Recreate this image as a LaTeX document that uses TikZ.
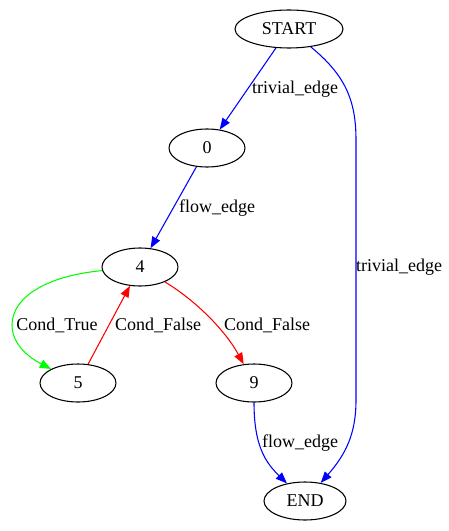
\documentclass[tikz,border=0pt]{standalone}
\usepackage{fontspec}
\setmainfont{Liberation Serif}
\usetikzlibrary{positioning, shapes, arrows.meta, calc}

\tikzset{
  state/.style={ellipse, draw, line width=0.8pt, inner sep=0pt, minimum height=28.5pt, minimum width=57pt},
  edgelabel/.style={inner sep=0pt},
  flowedge/.style={-{Triangle[length=8.5pt,width=6.5pt]}, line width=0.8pt},
}

\begin{document}
\begin{tikzpicture}[x=0.75pt, y=-0.75pt, font=\fontsize{13.5}{16}\selectfont]
                  \useasboundingbox (0,0) rectangle (449,531);
                  % Nodes
                  \node[state, minimum width=81pt] (start) at (289,29) {START};
                  \foreach \n/\x/\y in {0/207/148, 4/140/267, 5/78/383, 9/254/383}
                  \node[state] (node\n) at (\x,\y) {\n};
                  \node[state, minimum width=61.5pt] (end) at (305,501) {END};

                  % Labels
                  \node[edgelabel] (ltriv1) at (295,89) {trivial\_edge};
                  \node[edgelabel] (ltriv2) at (399,267) {trivial\_edge};
                  \node[edgelabel] (lflow1) at (217,208) {flow\_edge};
                  \node[edgelabel] (lflow2) at (300,443) {flow\_edge};
                  \node[edgelabel] (ltrue) at (57,325) {Cond\_True};
                  \node[edgelabel] (lfalse1) at (158,325) {Cond\_False};
                  \node[edgelabel] (lfalse2) at (267,325) {Cond\_False};

                  % Arrows
                  \draw[flowedge, blue] (start) -- (node0);
                  \draw[flowedge, blue] (start) .. controls (345,75) and (356,100) .. (356,140)
                        -- (356,400) .. controls (356,435) and (345,455) .. (end);
                  \draw[flowedge, blue] (node0) -- (node4);
                  \draw[flowedge, green] (node4) .. controls (45,276) and (12,298) .. (12,325)
                        .. controls (12,345) and (30,358) .. (node5);
                  \draw[flowedge, red] (node5) -- (node4);
                  \draw[flowedge, red] (node4) .. controls (195,300) and (225,330) .. (node9);
                  \draw[flowedge, blue] (node9) .. controls (254,445) and (265,462) .. (end);
              \end{tikzpicture}
\end{document}
